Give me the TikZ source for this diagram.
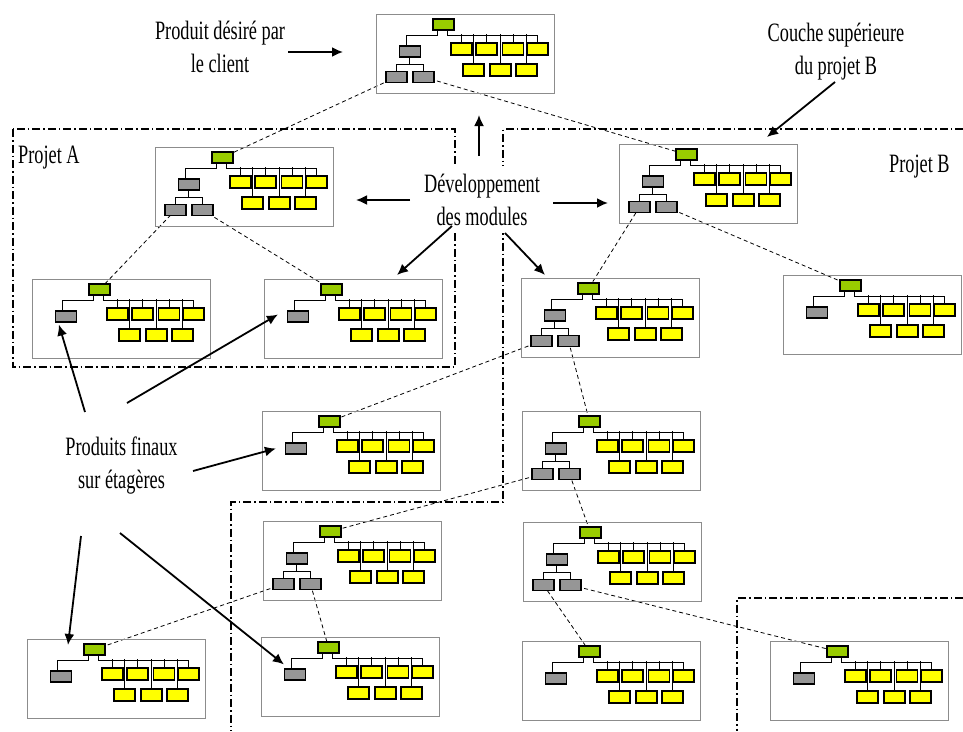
\documentclass[tikz,border=0pt]{standalone}
\usepackage{fontspec}
\setmainfont{Liberation Serif}[FakeStretch=0.69]
\usepackage{tikz,ifthen}
\usetikzlibrary{calc,backgrounds,arrows.meta}

\definecolor{vert}{RGB}{153,204,0}
\definecolor{jaune}{RGB}{255,255,0}
\definecolor{gris}{RGB}{150,150,150}
\definecolor{bordgris}{RGB}{140,140,140}

\tikzset{
  cadre/.style={draw=bordgris,line width=1pt,minimum width=178pt,minimum height=79pt,inner sep=0pt,anchor=north west},
  bloc/.style={draw=black,line width=1.2pt,minimum width=21pt,minimum height=11pt,inner sep=0pt},
  tree/.style={line width=0.8pt},
  lien/.style={line width=0.8pt,dash pattern=on 4pt off 3pt},
  projet/.style={line width=1.4pt,dash pattern=on 8pt off 3pt on 1.5pt off 3pt},
  fleche/.style={line width=1.8pt,-{Latex[length=11pt,width=10pt]}},
  texte/.style={align=center,anchor=base,inner sep=0pt,font=\fontsize{26.5}{32.5}\selectfont}
}

% one module: name, north-west corner, 1 if it has sub-modules
\newcommand{\modul}[3]{%
  \node[cadre] (#1) at (#2) {};
  \begin{scope}[shift={(#1.north west)}]
    \node[bloc,fill=vert] (#1-v) at (67.5,10.5) {};
    \node[bloc,fill=gris] (#1-a) at (34,37.5) {};
    \foreach \x [count=\i] in {85.5,110.5,137,161.5}
      \node[bloc,fill=jaune,minimum height=12pt] (#1-y\i) at (\x,35) {};
    \foreach \x [count=\i from 5] in {97.5,124.5,150.5}
      \node[bloc,fill=jaune,minimum height=12pt] (#1-y\i) at (\x,56) {};
    \draw[tree] ([xshift=-6.5pt]#1-v.south) -- ++(0,5) -| ([xshift=-4pt]#1-a.north);
    \draw[tree] ([xshift=3.5pt]#1-v.south) -- ++(0,5) -| (#1-y4.north);
    \foreach \i in {1,2,3}
      \draw[tree] (#1-y\i.north) -- ++(0,-8);
    \foreach \i in {5,6,7}
      \draw[tree] (#1-y\i.north) -- ++(0,-29);
    \ifthenelse{#3 = 1}{
      \node[bloc,fill=gris] (#1-b) at (20.5,63) {};
      \node[bloc,fill=gris] (#1-c) at (47.5,63) {};
      \draw[tree] ([xshift=-1pt]#1-a.south) -- ++(0,7);
      \draw[tree] (#1-b.north) -- ++(0,-7) -| (#1-c.north);
    }{}
  \end{scope}
}

\begin{document}
\begin{tikzpicture}[x=1pt,y=-1pt]
  \useasboundingbox (0,0) rectangle (963,731);

  % modules
  \modul{T}{376,14}{1}
  \modul{A1}{155,147}{1}
  \modul{A2}{32,279}{0}
  \modul{A3}{264,279}{0}
  \modul{B1}{619,144}{1}
  \modul{B2}{521,278}{1}
  \modul{B3}{783,275}{0}
  \modul{C1}{262,411}{0}
  \modul{B4}{522,411}{1}
  \modul{D1}{263,521}{1}
  \modul{B5}{523,522}{1}
  \modul{E1}{27,639}{0}
  \modul{D2}{261,637}{0}
  \modul{B6}{522,641}{0}
  \modul{F1}{770,641}{0}

  % sub-modules developed further
  \begin{scope}[on background layer]
    \foreach \p/\e/\f in {T/A1/B1,A1/A2/A3,B1/B2/B3,B2/C1/B4,B4/D1/B5,D1/E1/D2,B5/B6/F1}
    {
      \draw[lien] (\p-b.center) -- (\e-v.center);
      \draw[lien] (\p-c.center) -- (\f-v.center);
    }
  \end{scope}

  % projects
  \draw[projet] (13,129) rectangle (455,367);
  \draw[projet] (963,129) -- (503,129) -- (503,502) -- (231,502) -- (231,731);
  \draw[projet] (963,598) -- (737,598) -- (737,731);

  % labels (anchored on the last line)
  \node[texte] (client) at (220,72) {Produit désiré par\\le client};
  \node[texte] (couche) at (836,74) {Couche supérieure\\du projet B};
  \node[texte,fill=white,inner xsep=3pt,inner ysep=8pt] (dev) at (482,225) {Développement\\des modules};
  \node[texte] (finaux) at (121.5,488) {Produits finaux\\sur étagères};
  \node[texte,anchor=base west] (pa) at (18,163) {Projet A};
  \node[texte,anchor=base west] (pb) at (889,172) {Projet B};

  % arrows
  \coordinate (cl) at (288,52);
  \draw[fleche,shorten >=33pt] (cl) -- (cl -| T.west);
  \coordinate (co) at (835,82);
  \draw[fleche] (co) -- ($(B1.north west)+(148,-7)$);
  \coordinate (d0) at (479,156);
  \draw[fleche,shorten >=21pt] (d0) -- (d0 |- T.south);
  \coordinate (d1) at (410,200);
  \draw[fleche,shorten >=22pt] (d1) -- (d1 -| A1.east);
  \coordinate (d2) at (553,203);
  \draw[fleche,shorten >=11pt] (d2) -- (d2 -| B1.west);
  \coordinate (d3) at (452,226);
  \draw[fleche] (d3) -- ($(A3.north)+(43.5,-4)$);
  \coordinate (d4) at (505,233);
  \draw[fleche] (d4) -- ($(B2.north west)+(24,-3)$);
  \coordinate (f1) at (85,412);
  \draw[fleche] (f1) -- ($(A2-a.south west)+(4,2)$);
  \coordinate (f2) at (127,403);
  \draw[fleche] (f2) -- ($(A3-a.west)+(-9,-2)$);
  \coordinate (f3) at (193,471);
  \draw[fleche] (f3) -- ($(C1-a.west)+(-9,0)$);
  \coordinate (f4) at (81,536);
  \draw[fleche] (f4) -- ($(E1.north west)+(41,6)$);
  \coordinate (f5) at (120,533);
  \draw[fleche] (f5) -- ($(D2-a.north west)+(0,-4)$);
\end{tikzpicture}
\end{document}
